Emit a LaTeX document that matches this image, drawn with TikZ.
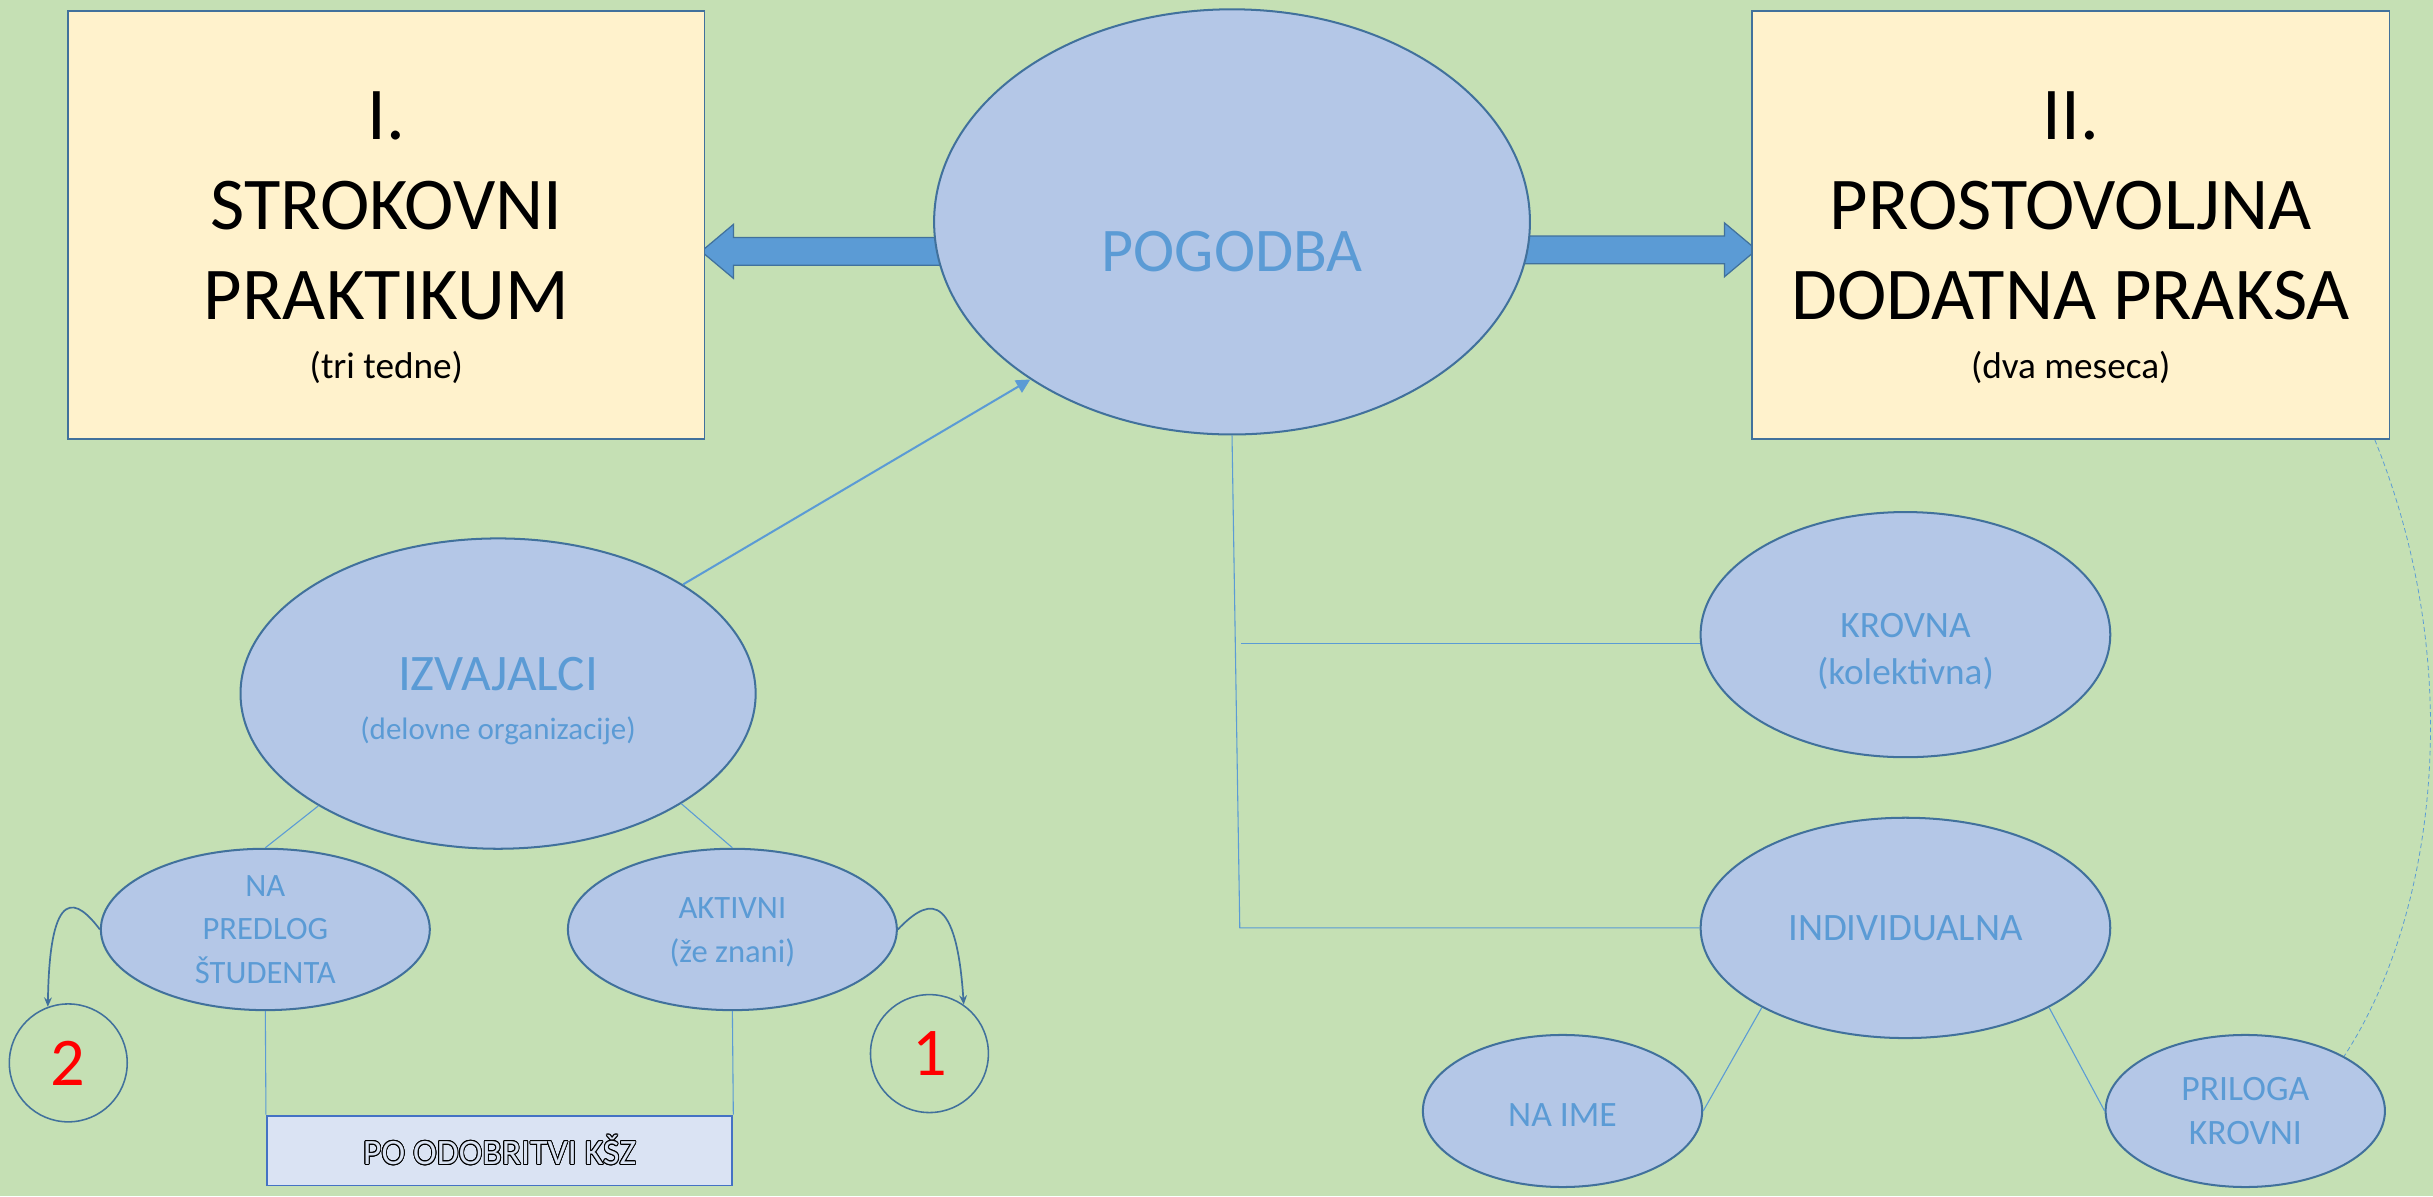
\documentclass[tikz,border=0pt]{standalone}
\usepackage{fontspec}
\setmainfont{Carlito}
\usepackage{contour}
\usetikzlibrary{shapes.geometric, shapes.arrows, arrows.meta, backgrounds, positioning}
\definecolor{ozadje}{HTML}{C5E0B4}
\definecolor{okvir}{HTML}{FFF2CC}
\definecolor{rob}{HTML}{41719C}
\definecolor{elipsa}{HTML}{B4C7E7}
\definecolor{napis}{HTML}{5B9BD5}
\definecolor{pas}{HTML}{DAE3F3}
\definecolor{pasrob}{HTML}{4472C4}
\contourlength{0.6pt}

\begin{document}
\begin{tikzpicture}[x=1pt, y=-1pt, >={Triangle[length=9pt, width=9pt]},
  box/.style={rectangle, draw=rob, fill=okvir, line width=1pt, align=center, inner sep=0pt, font=\fontsize{48}{58}\selectfont},
  oval/.style={ellipse, draw=rob, fill=elipsa, line width=1.3pt, text=napis, align=center, inner sep=0pt},
  num/.style={circle, draw=rob, line width=1pt, minimum size=76pt, inner sep=0pt, text=red, font=\fontsize{44}{50}\selectfont},
  fat/.style={single arrow, draw=rob, fill=napis, line width=0.8pt, inner xsep=0pt, inner ysep=8.5pt, single arrow head extend=8.5pt, single arrow tip angle=80},
  link/.style={draw=napis, line width=0.7pt},
  hook/.style={draw=rob, line width=1.1pt, -{Stealth[length=6pt, width=5pt]}}]
\useasboundingbox (0,0) rectangle (1568,771);

% Okvirja
\node[box, minimum width=410pt, minimum height=276pt] (strok) at (249,145)
  {\rule{0pt}{47pt}I.\\STROKOVNI\\PRAKTIKUM\\[-20pt]{\fontsize{24}{29}\selectfont (tri tedne)}};
\node[box, minimum width=411pt, minimum height=276pt] (prost) at (1334.5,145)
  {\rule{0pt}{47pt}II.\\PROSTOVOLJNA\\DODATNA PRAKSA\\[-20pt]{\fontsize{24}{29}\selectfont (dva meseca)}};

% Elipse
\node[oval, minimum width=384pt, minimum height=274pt, text height=64pt, text depth=0pt,
  font=\fontsize{40}{48}\selectfont] (pog) at (794,143) {POGODBA};
\node[oval, minimum width=332pt, minimum height=200pt, font=\fontsize{33}{38}\selectfont] (izv) at (321,447)
  {\rule{0pt}{31pt}IZVAJALCI\\[-6pt]{\fontsize{20}{24}\selectfont (delovne organizacije)}};
\node[oval, minimum width=212pt, minimum height=104pt, font=\fontsize{21}{28}\selectfont] (nps) at (171,599)
  {NA\\PREDLOG\\ŠTUDENTA};
\node[oval, minimum width=212pt, minimum height=104pt, font=\fontsize{21}{28}\selectfont] (akt) at (472,599)
  {\rule{0pt}{17pt}AKTIVNI\\(že znani)};
\node[oval, minimum width=264pt, minimum height=158pt, font=\fontsize{24}{30}\selectfont] (krov) at (1228,409)
  {\rule{0pt}{37pt}KROVNA\\(kolektivna)};
\node[oval, minimum width=264pt, minimum height=142pt, font=\fontsize{25}{30}\selectfont] (ind) at (1228,598)
  {INDIVIDUALNA};
\node[oval, minimum width=180pt, minimum height=98pt, font=\fontsize{23}{28}\selectfont] (naime) at (1007,716)
  {\rule{0pt}{20pt}NA IME};
\node[oval, minimum width=180pt, minimum height=98pt, font=\fontsize{23}{28}\selectfont] (pril) at (1447,716)
  {PRILOGA\\KROVNI};

% Stevilki
\node[num] (dva) at (44,685) {2};
\node[num] (ena) at (599,679) {1};

% Odobritev
\node[rectangle, draw=pasrob, fill=pas, line width=1.2pt, minimum width=300pt, minimum height=45pt,
  inner sep=0pt, font=\fontsize{23}{28}\selectfont] (ksz) at (322,741.5)
  {\contour{black}{\textcolor{pas}{PO ODOBRITVI KŠZ}}};

% Povezave
\coordinate (k1) at (800,415);
\coordinate (k2) at (799,598);
\draw[link, line width=1.3pt, ->] (izv) -- (pog.218);
\draw[link] (izv.212) -- (nps.north);
\draw[link] (izv.329) -- (akt.north);
\draw[link] (nps.south) -- (ksz.north west);
\draw[link] (akt.south) -- (ksz.north east);
\draw[hook] (nps.west) .. controls (50,580) and (32,568) .. (dva.110);
\draw[hook] (akt.east) .. controls (595,582) and (616,568) .. (ena.55);
\draw[link] (pog.south) -- (k2) -- (ind.west);
\draw[link] (k1) -- (krov.west |- k1);
\draw[link] (ind.209) -- (naime.east);
\draw[link] (ind.331) -- (pril.west);
\draw[link, line width=0.5pt, dash pattern=on 3pt off 2pt] ([xshift=-10pt]prost.south east)
  .. controls (1590,430) and (1570,590) .. (pril.29);

% Debeli puscici
\begin{scope}[on background layer]
\fill[ozadje] (0,0) rectangle (1568,771);
\node[fat, shape border rotate=180, minimum height=161pt, anchor=tail] (levo) at ([xshift=12pt, yshift=-19pt]pog.west) {};
\node[fat, minimum height=157pt, anchor=tail] (desno) at ([xshift=-12pt, yshift=-18pt]pog.east) {};
\end{scope}
\end{tikzpicture}
\end{document}
